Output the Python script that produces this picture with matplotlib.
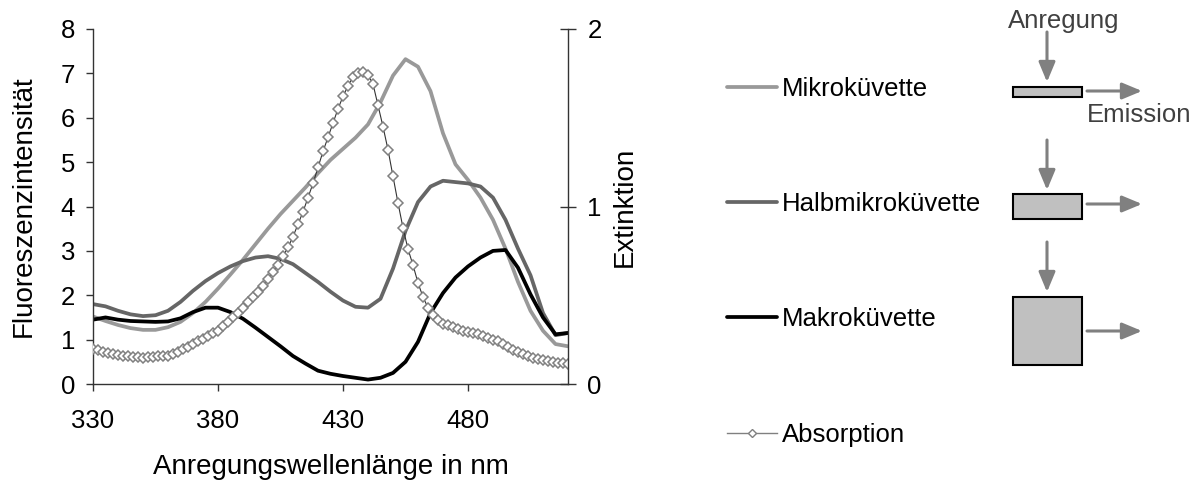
import numpy as np
import matplotlib
matplotlib.use("Agg")
import matplotlib.pyplot as plt
from matplotlib.patches import Rectangle
from matplotlib.lines import Line2D

plt.rcParams['font.family'] = ['Liberation Sans', 'DejaVu Sans']

# fluorescence, excitation wavelength in 5 nm steps
wl_fl = list(range(330, 521, 5))

mikro = [1.52, 1.42, 1.33, 1.26, 1.22, 1.22, 1.28, 1.40, 1.60, 1.85,
         2.15, 2.47, 2.80, 3.15, 3.50, 3.83, 4.13, 4.43, 4.75, 5.05,
         5.30, 5.55, 5.85, 6.35, 6.95, 7.32, 7.15, 6.60, 5.65, 4.95,
         4.60, 4.20, 3.70, 3.05, 2.30, 1.65, 1.20, 0.90, 0.85]

halbmikro = [1.80, 1.75, 1.65, 1.57, 1.53, 1.55, 1.65, 1.85, 2.10, 2.32,
             2.50, 2.65, 2.77, 2.85, 2.88, 2.82, 2.70, 2.50, 2.30, 2.08,
             1.88, 1.74, 1.72, 1.92, 2.60, 3.45, 4.10, 4.45, 4.58, 4.55,
             4.52, 4.45, 4.20, 3.70, 3.05, 2.45, 1.60, 1.10, 1.15]

makro = [1.45, 1.50, 1.45, 1.42, 1.41, 1.40, 1.41, 1.48, 1.62, 1.72,
         1.72, 1.62, 1.47, 1.27, 1.06, 0.85, 0.63, 0.46, 0.30, 0.23,
         0.18, 0.14, 0.10, 0.14, 0.25, 0.50, 0.95, 1.60, 2.05, 2.40,
         2.65, 2.85, 3.00, 3.02, 2.62, 2.02, 1.50, 1.12, 1.15]

# absorption (extinction), 2 nm steps
wl_abs = list(range(330, 521, 2))

absorption = [0.200, 0.190, 0.180, 0.175, 0.170, 0.165, 0.160, 0.155, 0.150, 0.150,
              0.145, 0.150, 0.150, 0.155, 0.155, 0.160, 0.170, 0.180, 0.195, 0.210,
              0.225, 0.240, 0.255, 0.270, 0.285, 0.300, 0.325, 0.350, 0.375, 0.400,
              0.430, 0.460, 0.490, 0.520, 0.550, 0.590, 0.630, 0.670, 0.720, 0.770,
              0.830, 0.900, 0.970, 1.050, 1.130, 1.220, 1.310, 1.390, 1.470, 1.550,
              1.620, 1.680, 1.730, 1.750, 1.760, 1.740, 1.690, 1.570, 1.450, 1.320,
              1.170, 1.020, 0.880, 0.760, 0.670, 0.570, 0.490, 0.430, 0.390, 0.360,
              0.340, 0.330, 0.320, 0.310, 0.300, 0.295, 0.290, 0.280, 0.270, 0.260,
              0.250, 0.240, 0.225, 0.210, 0.190, 0.180, 0.170, 0.155, 0.145, 0.140,
              0.135, 0.130, 0.125, 0.120, 0.120, 0.115]

xticks = [330, 380, 430, 480]
labels = ['Mikroküvette', 'Halbmikroküvette', 'Makroküvette', 'Absorption']
colors = ['#999999', '#666666', '#000000']

W, H = 1204, 482
fig = plt.figure(figsize=(W / 100, H / 100), dpi=100)
ax = fig.add_axes([93 / W, 1 - 384 / H, (568 - 93) / W, (384 - 29) / H])
ax2 = ax.twinx()

fs = 18.5
fs_lab = 20
axcol = '#333333'

l1, = ax.plot(wl_fl, mikro, color=colors[0], lw=2.7, solid_capstyle='round')
l2, = ax.plot(wl_fl, halbmikro, color=colors[1], lw=2.7, solid_capstyle='round')
l3, = ax.plot(wl_fl, makro, color=colors[2], lw=2.7, solid_capstyle='round')
l4, = ax2.plot(wl_abs, absorption, color='#333333', lw=0.8, marker='D', ms=4.8,
               mfc='white', mec='#808080', mew=1.1)

ax.set_xlim(330, 520)
ax.set_ylim(0, 8)
ax2.set_ylim(0, 2)
ax.set_xticks(xticks)
ax.set_yticks(range(0, 9))
ax2.set_yticks([0, 1, 2])

for a in (ax, ax2):
    a.spines['top'].set_visible(False)
    for s in a.spines.values():
        s.set_color(axcol)
        s.set_linewidth(1.0)
ax.spines['right'].set_visible(False)
ax2.spines['left'].set_visible(False)
ax2.spines['bottom'].set_visible(False)

ax.tick_params(axis='both', direction='out', length=5, width=1, color=axcol,
               labelsize=fs, pad=8)
ax.tick_params(axis='x', pad=13)
ax2.tick_params(axis='y', direction='inout', length=12, width=1, color=axcol,
                labelsize=fs, pad=8)

ax.set_xlabel('Anregungswellenlänge in nm', fontsize=fs_lab, labelpad=15)
ax.set_ylabel('Fluoreszenzintensität', fontsize=fs_lab, labelpad=17)
ax2.set_ylabel('Extinktion', fontsize=fs_lab, labelpad=7)

fig.legend([l1, l2, l3, Line2D([], [], color='#808080', lw=1, marker='D', ms=4,
                                mfc='white', mec='#808080')],
           labels, loc='upper left', bbox_to_anchor=(727 / W, 1 - 77 / H),
           frameon=False, fontsize=fs, handlelength=1.95, handletextpad=0.2,
           labelspacing=3.55, borderpad=0, borderaxespad=0)

# cuvette sketches with excitation and emission arrows, pixel coordinates
sk = fig.add_axes([0, 0, 1, 1])
sk.set_xlim(0, W)
sk.set_ylim(H, 0)
sk.axis('off')
sk.patch.set_alpha(0)

cuvettes = [(87, 97), (194, 219), (297, 365)]
arrow_v = [(32, 82), (140, 190), (242, 292)]
arrow_h = [91, 204, 331]
acol = '#808080'
astyle = '-|>,head_length=1.2,head_width=0.5'
for (top, bot), (y0, y1), yh in zip(cuvettes, arrow_v, arrow_h):
    sk.add_patch(Rectangle((1013, top), 69, bot - top, facecolor='#c0c0c0',
                           edgecolor='black', lw=1.5))
    sk.annotate('', xy=(1047, y1), xytext=(1047, y0),
                arrowprops=dict(arrowstyle=astyle, color=acol, lw=2.2,
                                shrinkA=0, shrinkB=0))
    sk.annotate('', xy=(1142, yh), xytext=(1087, yh),
                arrowprops=dict(arrowstyle=astyle, color=acol, lw=2.2,
                                shrinkA=0, shrinkB=0))

sk.text(1064, 28, 'Anregung', fontsize=fs, color='#404040', ha='center', va='baseline')
sk.text(1087, 122, 'Emission', fontsize=fs, color='#404040', ha='left', va='baseline')

fig.savefig('out.png', dpi=100)
